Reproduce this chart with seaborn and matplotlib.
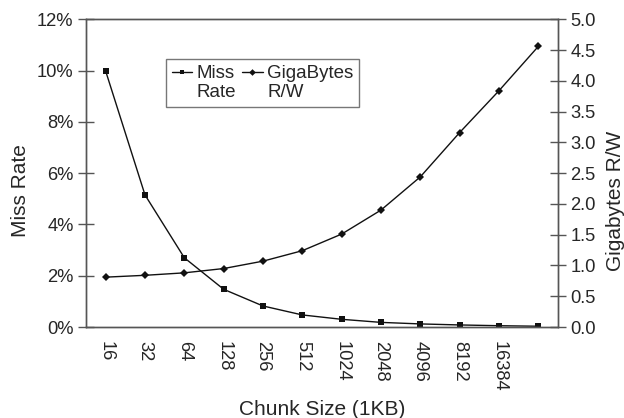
import matplotlib
matplotlib.use("Agg")
import matplotlib.pyplot as plt
import seaborn as sns
import numpy as np
import pandas as pd
from matplotlib.ticker import FuncFormatter, FixedLocator, MultipleLocator

chunk_sizes = ["16", "32", "64", "128", "256", "512", "1024", "2048", "4096", "8192", "16384", "32768"]
tick_labels = ["16", "32", "64", "128", "256", "512", "1024", "2048", "4096", "8192", "16384", ""]
miss_rate = [9.98, 5.15, 2.70, 1.47, 0.82, 0.47, 0.30, 0.18, 0.12, 0.08, 0.05, 0.03]
gigabytes_rw = [0.81, 0.84, 0.88, 0.95, 1.07, 1.24, 1.51, 1.90, 2.44, 3.16, 3.84, 4.56]

sns.set_style("white")
plt.rcParams['font.family'] = ['Liberation Sans', 'DejaVu Sans']

df = pd.DataFrame({"chunk": chunk_sizes, "miss": miss_rate, "gb": gigabytes_rw})

fig = plt.figure(figsize=(6.24, 4.18), dpi=100)
ax = fig.add_axes([86/624, 1-327/418, (558-86)/624, (327-19.3)/418])
ax2 = ax.twinx()

axis_col = "#555555"
tick_fs = 13.2
label_fs = 15
sns.lineplot(data=df, x="chunk", y="miss", ax=ax, marker="s", markersize=4.2,
             color="#111111", linewidth=1.0, markeredgewidth=0, sort=False, label="Miss\nRate", legend=False)
sns.lineplot(data=df, x="chunk", y="gb", ax=ax2, marker="D", markersize=4.2,
             color="#111111", linewidth=1.0, markeredgewidth=0, sort=False, label="GigaBytes\nR/W", legend=False)

n = len(chunk_sizes)
ax.set_xlim(-0.5, n - 0.5)
ax.set_ylim(0, 12)
ax2.set_ylim(0, 5)

ax.yaxis.set_major_locator(MultipleLocator(2))
ax.yaxis.set_major_formatter(FuncFormatter(lambda v, p: f"{v:.0f}%"))
ax2.yaxis.set_major_locator(MultipleLocator(0.5))
ax2.yaxis.set_major_formatter(FuncFormatter(lambda v, p: f"{v:.1f}"))

ax.xaxis.set_major_locator(FixedLocator(np.arange(n)))
ax.set_xticklabels(tick_labels, rotation=270, fontsize=tick_fs)
ax.xaxis.set_minor_locator(FixedLocator(np.arange(n + 1) - 0.5))
ax.tick_params(axis="x", which="major", length=0, pad=10, labelsize=tick_fs)
ax.tick_params(axis="x", which="minor", length=12, direction="inout", color=axis_col, width=1)
ax.tick_params(axis="y", length=12, direction="inout", color=axis_col, width=1, labelsize=tick_fs, pad=3)
ax2.tick_params(axis="y", length=12, direction="inout", color=axis_col, width=1, labelsize=tick_fs, pad=3)

for a in (ax, ax2):
    for s in a.spines.values():
        s.set_color(axis_col)
        s.set_linewidth(1.0)
        s.set_visible(True)

ax.set_xlabel("Chunk Size (1KB)", fontsize=label_fs, labelpad=6)
ax.set_ylabel("Miss Rate", fontsize=label_fs)
ax2.set_ylabel("Gigabytes R/W", fontsize=label_fs)
ax.yaxis.set_label_coords(-0.118, 0.445)
ax2.yaxis.set_label_coords(1.102, 0.41)
ax.grid(False)
ax2.grid(False)

h1, l1 = ax.get_legend_handles_labels()
h2, l2 = ax2.get_legend_handles_labels()
leg = ax2.legend(h1 + h2, l1 + l2, ncol=2, loc="upper left",
                 bbox_to_anchor=((166-86)/472, 1-(59-19.3)/307.7),
                 frameon=True, fancybox=False, edgecolor=axis_col, fontsize=13.5,
                 handlelength=1.1, handleheight=1.1, handletextpad=0.25, columnspacing=0.3,
                 borderpad=0.3, borderaxespad=0, markerscale=0.8)
leg.get_frame().set_linewidth(1.0)
for col in leg._legend_handle_box.get_children():
    for hp in col.get_children():
        hp.align = "top"

fig.savefig("out.png", dpi=100)
